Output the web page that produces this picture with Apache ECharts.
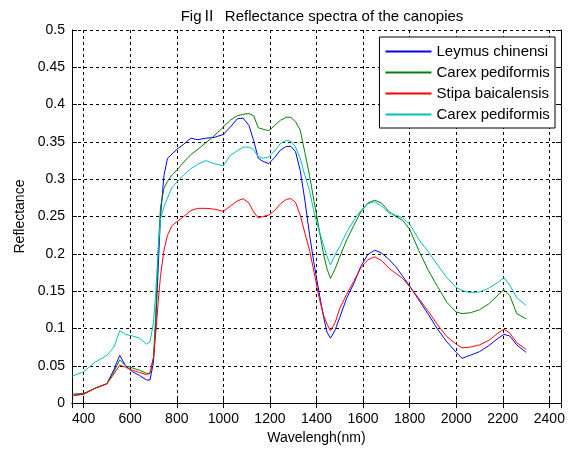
<!DOCTYPE html>
<html>
<head>
<meta charset="utf-8">
<script src="https://cdn.jsdelivr.net/npm/echarts@6/dist/echarts.min.js"></script>
<style>
  html, body { margin: 0; padding: 0; background: #fff; }
  #main { width: 568px; height: 450px; }
</style>
</head>
<body>
<div id="main"></div>
<script>
var wavelengths = [350, 400, 450, 500, 530, 555, 580, 610, 640, 670,
    685, 700, 710, 720, 730, 745, 760, 780, 800, 830,
    860, 890, 925, 960, 1000, 1030, 1060, 1085, 1110, 1130,
    1150, 1170, 1195, 1220, 1245, 1270, 1290, 1310, 1330, 1350,
    1370, 1390, 1410, 1430, 1445, 1460, 1480, 1500, 1530, 1560,
    1590, 1620, 1650, 1680, 1710, 1740, 1770, 1800, 1840, 1880,
    1920, 1960, 2000, 2025, 2060, 2100, 2140, 2180, 2205, 2230,
    2260, 2300];

var seriesNames = ['Leymus chinensi', 'Carex pediformis', 'Stipa baicalensis', 'Carex pediformis '];

var leymus = [0.010, 0.012, 0.020, 0.026, 0.045, 0.064, 0.050, 0.042, 0.037, 0.031,
    0.031, 0.055, 0.110, 0.180, 0.250, 0.305, 0.328, 0.334, 0.340, 0.347,
    0.355, 0.353, 0.355, 0.356, 0.360, 0.370, 0.381, 0.382, 0.372, 0.352,
    0.328, 0.324, 0.321, 0.329, 0.339, 0.344, 0.344, 0.337, 0.312, 0.272,
    0.226, 0.186, 0.150, 0.116, 0.095, 0.087, 0.098, 0.115, 0.141, 0.160,
    0.183, 0.199, 0.205, 0.201, 0.193, 0.183, 0.170, 0.157, 0.138, 0.119,
    0.099, 0.082, 0.068, 0.060, 0.064, 0.069, 0.077, 0.087, 0.092, 0.090,
    0.078, 0.068];

var carexA = [0.012, 0.013, 0.020, 0.026, 0.042, 0.058, 0.050, 0.047, 0.044, 0.040,
    0.040, 0.060, 0.120, 0.205, 0.262, 0.288, 0.297, 0.306, 0.312, 0.323,
    0.333, 0.340, 0.349, 0.358, 0.370, 0.379, 0.385, 0.387, 0.388, 0.385,
    0.369, 0.367, 0.365, 0.372, 0.379, 0.383, 0.383, 0.377, 0.366, 0.336,
    0.305, 0.270, 0.235, 0.200, 0.180, 0.167, 0.180, 0.196, 0.219, 0.238,
    0.256, 0.268, 0.272, 0.268, 0.257, 0.250, 0.245, 0.233, 0.204, 0.178,
    0.156, 0.135, 0.122, 0.120, 0.121, 0.125, 0.133, 0.145, 0.152, 0.144,
    0.120, 0.113];

var stipa = [0.010, 0.012, 0.020, 0.026, 0.039, 0.051, 0.048, 0.044, 0.041, 0.038,
    0.040, 0.062, 0.095, 0.135, 0.170, 0.205, 0.225, 0.238, 0.243, 0.250,
    0.258, 0.261, 0.261, 0.260, 0.257, 0.264, 0.271, 0.274, 0.268, 0.256,
    0.248, 0.250, 0.252, 0.258, 0.267, 0.273, 0.274, 0.269, 0.252, 0.228,
    0.205, 0.175, 0.143, 0.118, 0.106, 0.097, 0.108, 0.127, 0.146, 0.163,
    0.181, 0.192, 0.196, 0.191, 0.181, 0.174, 0.167, 0.156, 0.140, 0.123,
    0.105, 0.089, 0.079, 0.074, 0.075, 0.078, 0.084, 0.094, 0.099, 0.094,
    0.081, 0.072];

var carexB = [0.036, 0.042, 0.055, 0.064, 0.075, 0.097, 0.092, 0.090, 0.087, 0.079,
    0.082, 0.108, 0.150, 0.205, 0.247, 0.263, 0.275, 0.289, 0.296, 0.306,
    0.314, 0.320, 0.325, 0.321, 0.318, 0.332, 0.338, 0.343, 0.343, 0.340,
    0.330, 0.328, 0.330, 0.338, 0.348, 0.352, 0.351, 0.343, 0.328, 0.305,
    0.285, 0.255, 0.232, 0.212, 0.197, 0.185, 0.199, 0.210, 0.229, 0.245,
    0.258, 0.267, 0.270, 0.264, 0.255, 0.252, 0.248, 0.240, 0.219, 0.203,
    0.185, 0.168, 0.155, 0.151, 0.148, 0.149, 0.154, 0.162, 0.168, 0.158,
    0.141, 0.131];

var colors = ['#0000ff', '#008000', '#ff0000', '#00bfbf'];

function pairs(values) {
    var out = [];
    for (var i = 0; i < wavelengths.length; i++) {
        out.push([wavelengths[i], values[i]]);
    }
    return out;
}

var myChart = echarts.init(document.getElementById('main'));

var font = 'Liberation Sans, Arial, Noto Sans CJK SC, sans-serif';
var gridDash = { color: '#000', width: 1, type: [3, 3] };
var tickStyle = { show: true, inside: true, length: 5, lineStyle: { color: '#000' } };

var option = {
    animation: false,
    color: colors,
    title: {
        text: 'FigⅡ  Reflectance spectra of the canopies',
        left: 317,
        textAlign: 'center',
        top: 4,
        textStyle: { fontFamily: font, fontSize: 15, fontWeight: 'normal', color: '#000' }
    },
    legend: {
        orient: 'vertical',
        right: 13,
        top: 37,
        padding: [7, 1, 6, 5],
        itemWidth: 46,
        itemHeight: 14,
        itemGap: 6,
        backgroundColor: '#fff',
        borderColor: '#000',
        borderWidth: 1,
        borderRadius: 0,
        itemStyle: { opacity: 0 },
        textStyle: { fontFamily: font, fontSize: 15, color: '#000' },
        data: seriesNames
    },
    grid: { left: 72, right: 7, top: 30, bottom: 40 },
    xAxis: [{
        type: 'value',
        min: 350,
        max: 2450,
        splitNumber: 10,
        name: 'Wavelengh(nm)',
        nameLocation: 'middle',
        nameGap: 24,
        nameTextStyle: { fontFamily: font, fontSize: 14, color: '#000' },
        axisLine: { show: true, lineStyle: { color: '#000' } },
        axisTick: tickStyle,
        axisLabel: {
            showMinLabel: false, showMaxLabel: false, margin: 9,
            fontFamily: font, fontSize: 14, color: '#000',
            formatter: function (v) { return String(v); }
        },
        splitLine: { show: true, lineStyle: gridDash }
    }, {
        type: 'value',
        position: 'top',
        min: 350,
        max: 2450,
        splitNumber: 10,
        axisLine: { show: true, lineStyle: { color: '#000' } },
        axisTick: tickStyle,
        axisLabel: { show: false },
        splitLine: { show: false }
    }],
    yAxis: [{
        type: 'value',
        min: 0,
        max: 0.5,
        interval: 0.05,
        name: 'Reflectance',
        nameLocation: 'middle',
        nameGap: 44,
        nameTextStyle: { fontFamily: font, fontSize: 14, color: '#000' },
        axisLine: { show: true, lineStyle: { color: '#000' } },
        axisTick: tickStyle,
        axisLabel: { margin: 7, fontFamily: font, fontSize: 14, color: '#000' },
        splitLine: { show: true, lineStyle: gridDash }
    }, {
        type: 'value',
        position: 'right',
        min: 0,
        max: 0.5,
        interval: 0.05,
        axisLine: { show: true, lineStyle: { color: '#000' } },
        axisTick: tickStyle,
        axisLabel: { show: false },
        splitLine: { show: false }
    }],
    series: [
        { name: seriesNames[0], type: 'line', symbol: 'none', data: pairs(leymus), lineStyle: { width: 1 } },
        { name: seriesNames[1], type: 'line', symbol: 'none', data: pairs(carexA), lineStyle: { width: 1 } },
        { name: seriesNames[2], type: 'line', symbol: 'none', data: pairs(stipa), lineStyle: { width: 1 } },
        { name: seriesNames[3], type: 'line', symbol: 'none', data: pairs(carexB), lineStyle: { width: 1 } }
    ]
};
myChart.setOption(option);
</script>
</body>
</html>
